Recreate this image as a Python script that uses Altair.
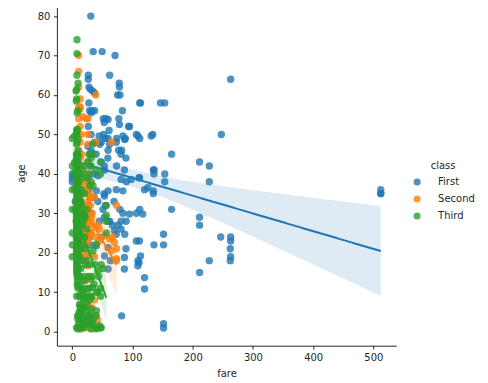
import altair as alt
import numpy as np
import pandas as pd

classes = ["First", "Second", "Third"]
colors = ["#1f77b4", "#ff7f0e", "#2ca02c"]

x_ticks = [0, 100, 200, 300, 400, 500]
y_ticks = [0, 10, 20, 30, 40, 50, 60, 70, 80]

# (fare, age)
first_points = [
    (30.7, 80), (34.65, 71), (49.5, 71), (71.0, 70), (26.55, 65), (61.98, 65), (26.55, 64), (263.0, 64),
    (27.72, 62), (77.96, 63), (78.27, 62), (33.5, 61), (29.7, 61.5), (75.25, 60), (79.2, 60), (37.0, 60.5),
    (27.5, 58), (112.0, 58), (146.5, 58), (153.5, 58), (113.3, 58), (28.5, 56), (37.0, 56), (83.2, 56), (31.5, 55.5),
    (51.5, 54), (55.9, 54), (53.1, 53), (77.3, 54), (59.4, 53.8), (78.3, 52.5), (93.5, 52), (95.0, 52), (61.2, 51),
    (44.5, 49.6), (51.9, 50), (55.0, 49), (73.5, 49), (88.0, 49), (106.4, 50), (112.0, 49), (133.6, 50), (247.5, 50),
    (109.0, 49.6), (131.0, 49.6), (84.0, 49.6), (59.4, 49), (87.0, 48.7), (37.0, 48), (48.0, 48), (73.0, 48),
    (62.0, 47.5), (45.5, 47.5), (77.0, 46), (81.0, 45), (89.1, 44), (59.0, 44), (31.5, 45.8), (59.4, 46), (81.9, 46),
    (164.9, 45), (211.3, 43), (227.5, 42), (53.0, 42), (48.0, 43), (73.5, 42), (134.5, 41), (135.6, 40), (136.0, 41),
    (53.5, 41), (110.9, 39), (0.0, 40), (0.0, 39), (0.0, 38), (42.5, 39.5), (81.0, 38.6), (98.0, 38.6), (111.6, 39),
    (153.5, 40), (153.5, 38), (227.5, 38), (125.4, 36.5), (40.0, 35.7), (59.4, 35.7), (73.0, 36), (84.0, 35.7),
    (120.0, 36), (134.5, 35.7), (134.5, 35), (512.3, 35), (512.3, 36), (512.3, 35), (42.5, 33), (53.5, 34.4),
    (51.0, 31), (84.0, 30), (95.0, 29.8), (106.4, 30), (117.0, 29.8), (112.0, 31), (164.9, 31), (55.0, 32),
    (53.5, 29), (59.0, 28), (81.0, 28), (89.5, 28), (45.0, 28), (62.0, 28), (76.0, 27), (211.3, 29), (211.3, 27),
    (81.0, 26), (73.0, 24.7), (87.0, 24.7), (70.0, 25.6), (48.0, 23.9), (106.4, 23), (111.6, 23), (151.5, 24.7),
    (151.5, 22), (135.6, 22), (246.5, 24), (263.0, 24), (263.0, 23), (262.4, 21), (263.0, 19), (262.4, 18),
    (227.5, 18), (211.5, 15), (40.0, 21.8), (59.4, 21.3), (113.3, 19.2), (53.5, 19.2), (86.5, 18.8), (109.0, 18),
    (59.4, 15.9), (86.5, 15.9), (108.9, 16.7), (110.9, 17.5), (120.0, 13.7), (120.0, 10.8), (81.9, 4),
    (151.5, 2), (151.5, 0.92), (35.5, 40), (30.0, 45), (26.0, 47), (27.7, 36), (30.5, 30), (26.3, 39), (5.0, 33),
    (28.7, 24), (31.0, 50), (26.55, 52), (29.7, 42), (35.5, 34), (30.0, 22), (26.0, 28), (33.0, 56), (86.5, 41),
    (90.0, 38), (69.3, 33), (66.6, 27), (78.85, 31), (89.1, 21), (63.4, 18), (39.6, 45), (52.55, 35),
]

second_points = [
    (10.5, 70), (10.5, 66), (10.5, 62), (13.0, 59), (39.0, 60), (13.0, 57), (13.0, 56.5), (17.6, 54.5), (23.0, 54),
    (26.0, 54), (13.0, 52), (15.0, 50), (26.0, 50), (65.0, 48), (26.0, 47.5), (26.0, 43), (15.0, 45), (13.0, 40),
    (26.0, 40), (10.5, 42), (10.5, 36), (13.0, 35), (20.5, 37.5), (29.0, 34), (12.0, 31.5), (26.0, 31.5),
    (31.5, 29), (37.0, 26.5), (42.5, 27), (53.5, 24.3), (45.0, 23), (67.0, 24), (70.0, 22.6), (65.0, 20.5),
    (31.5, 25), (17.6, 26), (23.0, 22), (26.0, 19.7), (15.0, 19.7), (73.5, 32), (73.5, 18), (73.5, 21),
    (29.0, 34.5), (31.5, 27.7), (45.0, 26), (62.0, 23.5), (26.0, 16.7), (20.5, 13), (39.0, 4), (39.0, 1),
    (14.5, 0.67), (41.6, 3), (23.0, 19), (37.0, 19), (73.5, 18.5), (23.0, 13), (29.0, 14), (27.75, 4), (41.6, 1),
    (15.0, 1.5), (26.0, 2), (26.0, 3), (18.75, 3), (33.0, 6), (26.25, 7), (36.75, 8), (29.0, 0.83),
    (10.5, 18), (10.5, 19), (10.5, 21), (10.5, 23), (10.5, 24), (10.5, 25), (10.5, 27), (10.5, 28), (10.5, 30),
    (10.5, 32), (10.5, 34), (10.5, 38), (10.5, 44), (10.5, 46), (10.5, 50), (10.5, 54), (10.5, 57),
    (13.0, 18), (13.0, 21), (13.0, 23), (13.0, 24), (13.0, 25), (13.0, 27), (13.0, 28), (13.0, 29), (13.0, 30),
    (13.0, 32), (13.0, 33), (13.0, 34), (13.0, 36), (13.0, 38), (13.0, 42), (13.0, 44), (13.0, 48),
    (26.0, 23), (26.0, 24), (26.0, 25), (26.0, 27), (26.0, 28), (26.0, 29), (26.0, 30), (26.0, 32), (26.0, 33),
    (26.0, 35), (26.0, 36), (26.0, 38), (21.0, 24), (21.0, 28), (21.0, 31), (21.0, 36), (11.5, 28), (11.5, 34),
    (12.35, 36), (15.05, 22), (15.75, 27), (19.5, 30), (27.72, 25), (30.0, 25), (30.0, 32), (33.0, 30),
    (36.75, 34), (39.0, 48), (39.0, 24), (26.25, 24), (14.5, 30), (13.5, 26), (18.0, 32),
]

third_points = [
    (7.775, 74), (7.75, 70.5), (7.75, 65), (9.5875, 63), (6.2375, 61), (7.25, 61.4), (6.6, 58.5), (7.25, 59),
    (8.05, 55.5), (9.3, 56), (7.75, 51), (8.05, 51.3), (7.05, 50), (0.0, 49), (3.8, 49.6), (9.5, 48.8),
    (7.0, 47.5), (9.5, 45.8), (9.8, 44.6), (7.8, 44.6), (34.0, 47.5), (34.375, 45), (46.9, 43), (27.9, 45),
    (3.8, 42.9), (9.2, 42), (3.8, 40.3), (7.9, 40), (8.05, 39), (7.25, 38), (56.5, 32), (56.5, 29.5),
    (56.5, 28), (56.5, 25), (39.7, 22.2), (34.4, 20.5), (24.15, 26), (20.5, 29), (16.1, 30), (14.45, 33),
    (7.25, 22), (7.25, 35), (7.25, 26), (7.25, 28), (7.25, 19), (7.25, 30), (7.25, 40), (7.25, 18), (7.25, 24),
    (7.25, 33), (7.75, 16), (7.75, 21), (7.75, 27), (7.75, 32), (7.75, 36), (7.75, 42), (7.75, 25), (7.75, 29),
    (7.75, 20), (7.75, 45), (7.925, 26), (7.925, 22), (7.925, 31), (7.925, 39), (7.925, 17), (7.925, 24),
    (7.925, 28), (7.925, 35), (8.05, 20), (8.05, 23), (8.05, 25), (8.05, 29), (8.05, 32), (8.05, 34), (8.05, 37),
    (8.05, 43), (8.05, 19), (8.05, 27), (8.05, 36), (8.05, 44), (7.8958, 21), (7.8958, 24), (7.8958, 26),
    (7.8958, 30), (7.8958, 33), (7.8958, 38), (7.8958, 41), (7.8958, 18), (7.225, 27), (7.225, 23), (7.225, 34),
    (7.225, 15), (7.225, 45), (6.975, 25), (6.975, 30), (6.975, 20), (6.75, 37), (6.45, 28), (6.24, 33),
    (5.0, 31), (4.0, 36), (0.0, 19), (0.0, 25), (0.0, 36), (0.0, 31), (0.0, 42), (0.0, 22), (8.6625, 18),
    (8.6625, 22), (8.6625, 31), (8.6625, 40), (9.5, 26), (9.5, 20), (9.5, 29), (9.5, 37), (9.225, 35),
    (9.35, 23), (9.8375, 32), (9.4833, 43), (7.05, 17), (7.05, 24), (7.05, 29), (7.05, 37), (7.05, 41),
    (7.125, 21), (7.125, 28), (7.14, 30), (7.65, 22), (7.65, 27), (7.65, 33), (7.65, 39), (7.65, 44), (7.65, 51),
    (7.55, 26), (7.55, 48), (7.0, 21), (7.0, 36), (6.5, 24), (6.5, 39), (10.5, 23), (11.13, 27), (12.48, 33),
    (12.29, 25), (13.42, 30), (14.45, 24), (14.45, 27), (14.5, 40), (15.5, 32), (15.5, 21), (15.25, 36),
    (16.1, 35), (16.1, 22), (17.8, 41), (18.0, 28), (19.26, 30), (20.53, 24), (20.58, 35), (21.07, 29),
    (22.02, 21), (23.45, 39), (24.15, 31), (24.15, 18), (25.47, 43), (27.9, 40), (29.13, 37), (31.28, 42),
    (31.39, 44), (31.39, 38), (34.38, 37), (39.69, 41), (46.9, 40), (20.2, 42), (15.85, 39), (16.7, 27),
    (14.45, 16), (12.0, 19), (10.0, 16), (10.5, 34), (11.0, 38), (8.05, 14), (7.75, 15), (7.25, 16), (9.0, 14.5),
    (8.4, 17), (51.0, 16), (42.5, 15.4), (31.5, 13.3), (9.3, 14), (9.3, 11.6), (15.0, 10.8), (26.0, 10.8),
    (34.0, 11.2), (42.5, 10), (31.5, 8.7), (17.6, 8.7), (12.0, 6.6), (20.4, 6.2), (31.5, 5.7), (40.0, 5.3),
    (15.0, 4.5), (26.0, 4), (9.3, 3.2), (23.0, 2.8), (34.0, 2.4), (45.0, 1.5), (9.3, 0.7), (20.4, 1), (31.5, 0.7),
    (40.0, 0.7), (48.0, 1), (7.0, 1), (11.0, 9), (11.13, 4), (12.48, 3), (13.42, 5), (14.4, 9), (15.25, 2),
    (15.9, 1), (16.7, 4), (18.8, 8), (19.26, 3), (20.57, 6), (21.07, 2), (21.68, 11), (22.36, 9), (23.45, 7),
    (24.15, 5), (25.47, 2), (27.9, 3), (27.9, 9), (29.13, 4), (29.13, 8), (31.28, 4), (31.28, 9), (31.39, 2),
    (34.38, 3), (39.69, 1), (39.69, 4), (39.69, 10), (46.9, 1), (46.9, 9), (46.9, 11), (7.25, 9), (8.05, 12),
    (8.52, 4), (8.52, 13), (9.35, 11), (9.35, 1), (12.29, 14), (13.0, 12), (18.0, 10), (19.0, 14), (14.5, 6),
    (10.46, 4), (10.46, 2), (11.24, 5), (11.24, 1), (12.48, 7), (16.1, 10), (20.21, 13), (33.0, 14), (26.0, 14),
    (27.9, 11), (36.0, 12), (44.0, 14), (48.0, 17), (38.0, 17), (29.0, 17), (22.0, 17), (19.0, 18),
]

point_sets = [first_points, second_points, third_points]


def fit_band(pts, n=120):
    x = np.array([p[0] for p in pts], dtype=float)
    y = np.array([p[1] for p in pts], dtype=float)
    b, a = np.polyfit(x, y, 1)
    grid = np.linspace(x.min(), x.max(), n)
    pred = a + b * grid
    resid = y - (a + b * x)
    s = np.sqrt(np.sum(resid ** 2) / (len(x) - 2))
    sxx = np.sum((x - x.mean()) ** 2)
    se = s * np.sqrt(1.0 / len(x) + (grid - x.mean()) ** 2 / sxx)
    return pd.DataFrame({"fare": grid, "fit": pred, "lo": pred - 1.96 * se, "hi": pred + 1.96 * se})


xs = alt.Scale(domain=[-25.6, 537.9], nice=False, zero=False)
ys = alt.Scale(domain=[-3.56, 83.98], nice=False, zero=False)
x_axis = alt.Axis(values=x_ticks, title="fare", titlePadding=6)
y_axis = alt.Axis(values=y_ticks, title="age", titlePadding=11)
color_scale = alt.Scale(domain=classes, range=colors)

layers = []
for cls, col, pts in zip(classes, colors, point_sets):
    pdf = pd.DataFrame({"fare": [p[0] for p in pts], "age": [p[1] for p in pts], "class": cls})
    bdf = fit_band(pts)
    pts_layer = alt.Chart(pdf).mark_circle(size=55, opacity=0.8, clip=True).encode(
        x=alt.X("fare:Q", scale=xs, axis=x_axis),
        y=alt.Y("age:Q", scale=ys, axis=y_axis),
        color=alt.Color(
            "class:N",
            scale=color_scale,
            legend=alt.Legend(
                title="class",
                orient="none",
                legendX=356,
                legendY=161,
                titleAnchor="middle",
                titlePadding=6,
                symbolType="circle",
                symbolSize=50,
                symbolOpacity=0.8,
                rowPadding=7,
                labelOffset=16,
            ),
        ),
    )
    band_layer = alt.Chart(bdf).mark_area(color=col, opacity=0.15, clip=True).encode(
        x=alt.X("fare:Q", scale=xs), y=alt.Y("lo:Q", scale=ys), y2="hi:Q"
    )
    line_layer = alt.Chart(bdf).mark_line(color=col, strokeWidth=2, clip=True).encode(
        x=alt.X("fare:Q", scale=xs), y=alt.Y("fit:Q", scale=ys)
    )
    layers += [pts_layer, band_layer, line_layer]

chart = (
    alt.layer(*layers)
    .properties(width=340, height=346, padding={"left": 8, "top": -8, "right": 5, "bottom": 5})
    .configure_view(stroke=None)
    .configure_axis(
        grid=False,
        domainColor="#262626",
        tickColor="#262626",
        labelColor="#262626",
        titleColor="#262626",
        labelFont="DejaVu Sans",
        titleFont="DejaVu Sans",
        labelFontSize=10,
        titleFontSize=10,
        titleFontWeight="normal",
        tickSize=3.5,
        labelPadding=3.5,
    )
    .configure_legend(
        titleFont="DejaVu Sans",
        labelFont="DejaVu Sans",
        titleFontSize=10,
        labelFontSize=10,
        titleFontWeight="normal",
        titleColor="#262626",
        labelColor="#262626",
    )
)

chart.save("out.html", embed_options={"renderer": "svg", "actions": False})
